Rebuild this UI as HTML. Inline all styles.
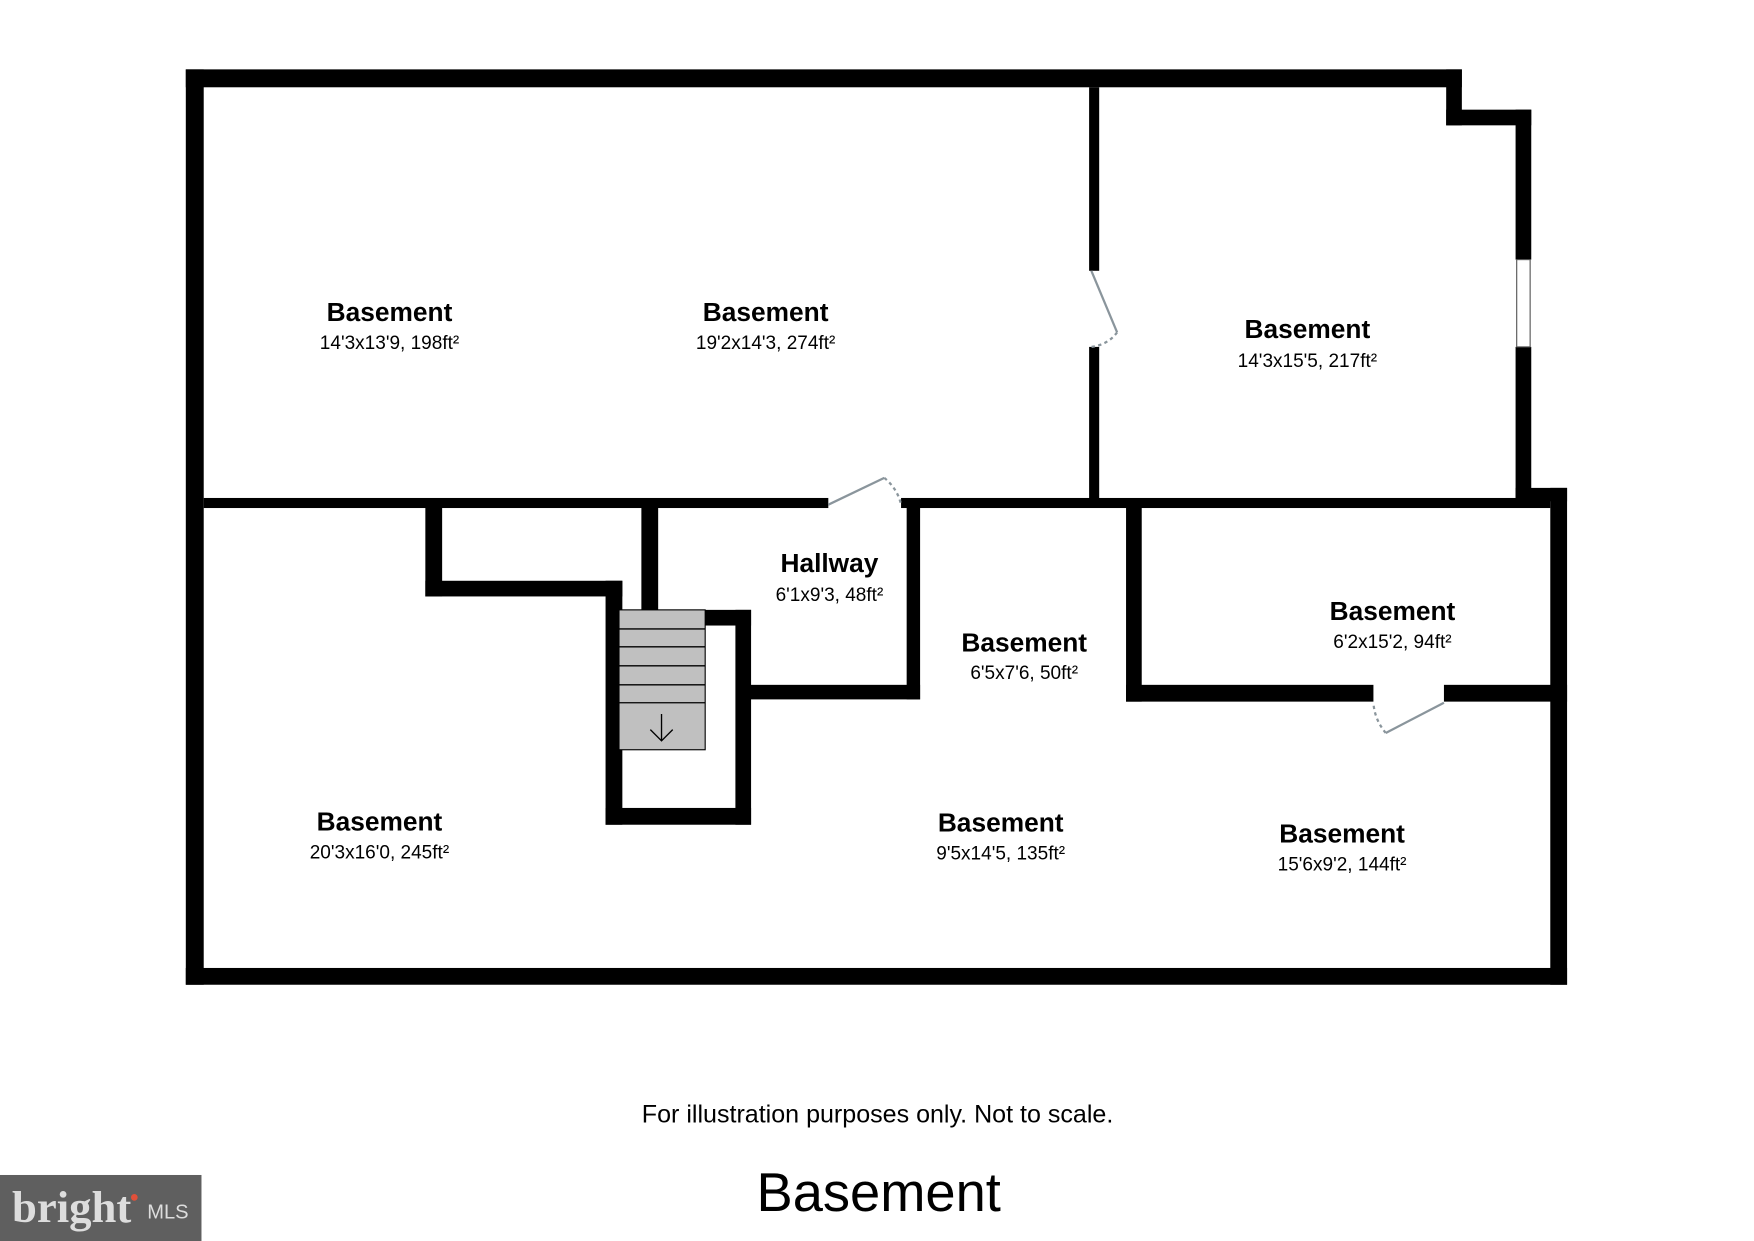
<!DOCTYPE html>
<html><head><style>
html,body{margin:0;padding:0;background:#fff;width:1754px;height:1241px;overflow:hidden}
svg{display:block}
text{font-family:"Liberation Sans",Arial,sans-serif;text-anchor:middle;fill:#000}
.t{font-weight:bold;font-size:23.5px}
.d{font-size:17px}
</style></head><body>
<svg width="1754" height="1241" viewBox="0 0 1567 1109" preserveAspectRatio="none" xmlns="http://www.w3.org/2000/svg">
<g fill="#000">
<rect x="166" y="62" width="1140" height="16"/>
<rect x="166" y="62" width="16" height="818"/>
<rect x="166" y="865" width="1234" height="15"/>
<rect x="1385" y="436" width="15" height="444"/>
<rect x="1292" y="62" width="14" height="50"/>
<rect x="1292" y="98" width="76" height="14"/>
<rect x="1354" y="98" width="14" height="134"/>
<rect x="1354" y="310" width="14" height="136"/>
<rect x="1354" y="436" width="46" height="12"/>
<rect x="973" y="78" width="9" height="164"/>
<rect x="973" y="310" width="9" height="140"/>
<rect x="182" y="445" width="558" height="9"/>
<rect x="805" y="445" width="580" height="9"/>
<rect x="380" y="453" width="15" height="80"/>
<rect x="380" y="519" width="176" height="14"/>
<rect x="573" y="453" width="15" height="92"/>
<rect x="541" y="519" width="15" height="218"/>
<rect x="541" y="722" width="130" height="15"/>
<rect x="657" y="545" width="14" height="192"/>
<rect x="630" y="545" width="41" height="14"/>
<rect x="810" y="453" width="12" height="172"/>
<rect x="658" y="612" width="164" height="13"/>
<rect x="1006" y="453" width="14" height="174"/>
<rect x="1006" y="612" width="221" height="15"/>
<rect x="1290" y="612" width="110" height="15"/>
</g>
<rect x="1355" y="232" width="12" height="78" fill="#fff" stroke="#555" stroke-width="1"/>
<rect x="553" y="545" width="77" height="125" fill="#c0c0c0" stroke="#000" stroke-width="1"/>
<g stroke="#000" stroke-width="1.2">
<line x1="553" y1="562" x2="630" y2="562"/>
<line x1="553" y1="578" x2="630" y2="578"/>
<line x1="553" y1="595" x2="630" y2="595"/>
<line x1="553" y1="612" x2="630" y2="612"/>
<line x1="553" y1="628" x2="630" y2="628"/>
<path d="M591 638 V662 M581 652 L591 662 L601 652" fill="none"/>
</g>
<g stroke="#8a959c" stroke-width="2" fill="none">
<line x1="975" y1="242" x2="998" y2="297"/>
<path d="M998 297 Q990 308 975 310" stroke-dasharray="3,3"/>
<line x1="740" y1="451" x2="790" y2="427"/>
<path d="M790 427 Q802 437 805 451" stroke-dasharray="3,3"/>
<line x1="1290" y1="628" x2="1238" y2="655"/>
<path d="M1238 655 Q1228 643 1227 628" stroke-dasharray="3,3"/>
</g>
<text class="t" x="348" y="287">Basement</text><text class="d" x="348" y="312">14'3x13'9, 198ft²</text>
<text class="t" x="684" y="287">Basement</text><text class="d" x="684" y="312">19'2x14'3, 274ft²</text>
<text class="t" x="1168" y="302">Basement</text><text class="d" x="1168" y="328">14'3x15'5, 217ft²</text>
<text class="t" x="741" y="511">Hallway</text><text class="d" x="741" y="537">6'1x9'3, 48ft²</text>
<text class="t" x="915" y="582">Basement</text><text class="d" x="915" y="607">6'5x7'6, 50ft²</text>
<text class="t" x="1244" y="554">Basement</text><text class="d" x="1244" y="579">6'2x15'2, 94ft²</text>
<text class="t" x="339" y="742">Basement</text><text class="d" x="339" y="767">20'3x16'0, 245ft²</text>
<text class="t" x="894" y="743">Basement</text><text class="d" x="894" y="768">9'5x14'5, 135ft²</text>
<text class="t" x="1199" y="753">Basement</text><text class="d" x="1199" y="778">15'6x9'2, 144ft²</text>
<text x="784" y="1003" style="font-size:22.4px">For illustration purposes only. Not to scale.</text>
<text x="785" y="1082" style="font-size:48.5px">Basement</text>
<rect x="0" y="1050" width="180" height="59" fill="#5f5f5f"/>
<text x="64" y="1092" style="font-family:'Liberation Serif',serif;font-size:40px;fill:#ddd;font-weight:bold">bright</text>
<circle cx="120" cy="1070" r="3" fill="#e0503a"/>
<text x="150" y="1089" style="font-size:18px;fill:#ddd">MLS</text>
</svg>
</body></html>
